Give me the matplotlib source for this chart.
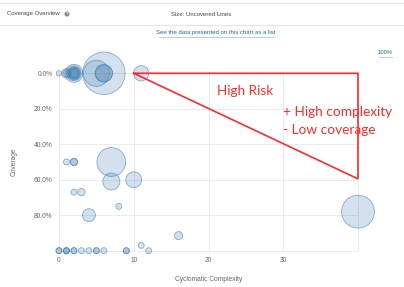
import matplotlib
matplotlib.use('Agg')
import matplotlib.pyplot as plt
from matplotlib.ticker import FuncFormatter
import numpy as np

# complexity, coverage (%), uncovered lines (bubble size)
complexity = [0, 1, 1, 2, 2, 2, 2, 2, 2, 5, 6, 6, 6, 11,
              1, 2, 2, 7,
              7, 10,
              2, 3,
              8,
              4,
              16,
              11,
              0, 0, 1, 1, 1, 2, 2, 3, 4, 5, 5, 6, 9, 9, 12,
              40]
coverage = [0, 0, 0, 0, 0, 0, 0, 0, 0, 0, 0, 0, 0, 0,
            50, 50, 50, 50,
            61, 60,
            67, 67,
            75,
            80,
            91.5,
            97,
            100, 100, 100, 100, 100, 100, 100, 100, 100, 100, 100, 100, 100, 100, 100,
            78]
uncovered = [0.8, 1.4, 2.5, 2.8, 6, 9, 1.8, 3.5, 4.5, 19, 50, 8.5, 8, 6.5,
             1, 1.4, 1.4, 23,
             8, 7,
             1, 1.5,
             1,
             4.7,
             1.8,
             1,
             1, 1, 1, 1, 1, 1, 1, 1, 1, 1, 1, 1, 1, 1, 1,
             30]

GRID = '#e8e8e8'
RED = '#ff2a2a'
LINK = '#236a97'
plt.rcParams['font.family'] = ['Liberation Sans', 'DejaVu Sans']

fig = plt.figure(figsize=(4.04, 2.87), dpi=100)

# header
fig.add_artist(plt.Line2D([0, 1], [1 - 3 / 287, 1 - 3 / 287], color='#e6e6e6', lw=0.8))
fig.add_artist(plt.Line2D([0, 1], [1 - 25 / 287, 1 - 25 / 287], color='#e6e6e6', lw=0.8))
fig.text(7 / 404, 1 - 14 / 287, 'Coverage Overview', fontsize=4.3, color='#444444', va='center')
fig.text(67 / 404, 1 - 14 / 287, '?', fontsize=3.2, color='white', va='center', ha='center',
         fontweight='bold',
         bbox=dict(boxstyle='circle,pad=0.12', fc='#888888', ec='none'))
fig.text(171 / 404, 1 - 14 / 287, 'Size: Uncovered Lines', fontsize=4.3, color='#444444', va='center')
fig.text(216 / 404, 1 - 33 / 287, 'See the data presented on this chart as a list',
         fontsize=4.3, color=LINK, va='center', ha='center')
fig.add_artist(plt.Line2D([159 / 404, 273 / 404], [1 - 36.5 / 287, 1 - 36.5 / 287],
                          color='#9dbcd4', lw=0.5))
fig.text(385 / 404, 1 - 53 / 287, '100%', fontsize=4.2, color=LINK, va='center', ha='center')
fig.add_artist(plt.Line2D([378 / 404, 392 / 404], [1 - 56.5 / 287, 1 - 56.5 / 287],
                          color='#9dbcd4', lw=0.5))

ax = fig.add_axes([59 / 404, 1 - 250.7 / 287, 299 / 404, 177.4 / 287])
ax.set_xlim(0, 40)
ax.set_ylim(100, 0)
ax.set_xticks([0, 10, 20, 30, 40])
ax.set_yticks([0, 20, 40, 60, 80, 100])
ax.xaxis.set_major_formatter(FuncFormatter(lambda v, p: '' if v >= 40 else f'{v:.0f}'))
ax.yaxis.set_major_formatter(FuncFormatter(lambda v, p: '' if v >= 100 else f'{v:.1f}%'))
ax.tick_params(length=0, labelsize=4.8, labelcolor='#666666', pad=4.5)
ax.grid(True, color=GRID, lw=0.6)
ax.set_axisbelow(True)
for s in ax.spines.values():
    s.set_color(GRID)
    s.set_linewidth(0.6)

radius_px = 3 * np.sqrt(np.array(uncovered))
sizes = (2 * radius_px * 0.72) ** 2
ax.scatter(complexity, coverage, s=sizes, facecolor=(70 / 255, 130 / 255, 180 / 255, 0.24),
           edgecolor=(70 / 255, 125 / 255, 175 / 255, 0.65), linewidths=0.55,
           clip_on=False, zorder=3)

ax.set_xlabel('Cyclomatic Complexity', fontsize=4.8, color='#666666', labelpad=8.5)
ax.set_ylabel('Coverage', fontsize=4.8, color='#666666', labelpad=12)

# red risk annotation
ax.plot([10, 40, 40, 10], [0, 0, 59.5, 0], color=RED, lw=1.2, zorder=4,
        clip_on=False, solid_joinstyle='miter')
ax.text(21.2, 10, 'High Risk', fontsize=9.7, color=RED, va='center', family='Lato', zorder=5)
ax.text(29.9, 21.8, '+ High complexity', fontsize=9.8, color=RED, va='center', family='Lato', zorder=5)
ax.text(29.9, 32.2, '- Low coverage', fontsize=9.8, color=RED, va='center', family='Lato', zorder=5)

fig.savefig('out.png', dpi=100)
